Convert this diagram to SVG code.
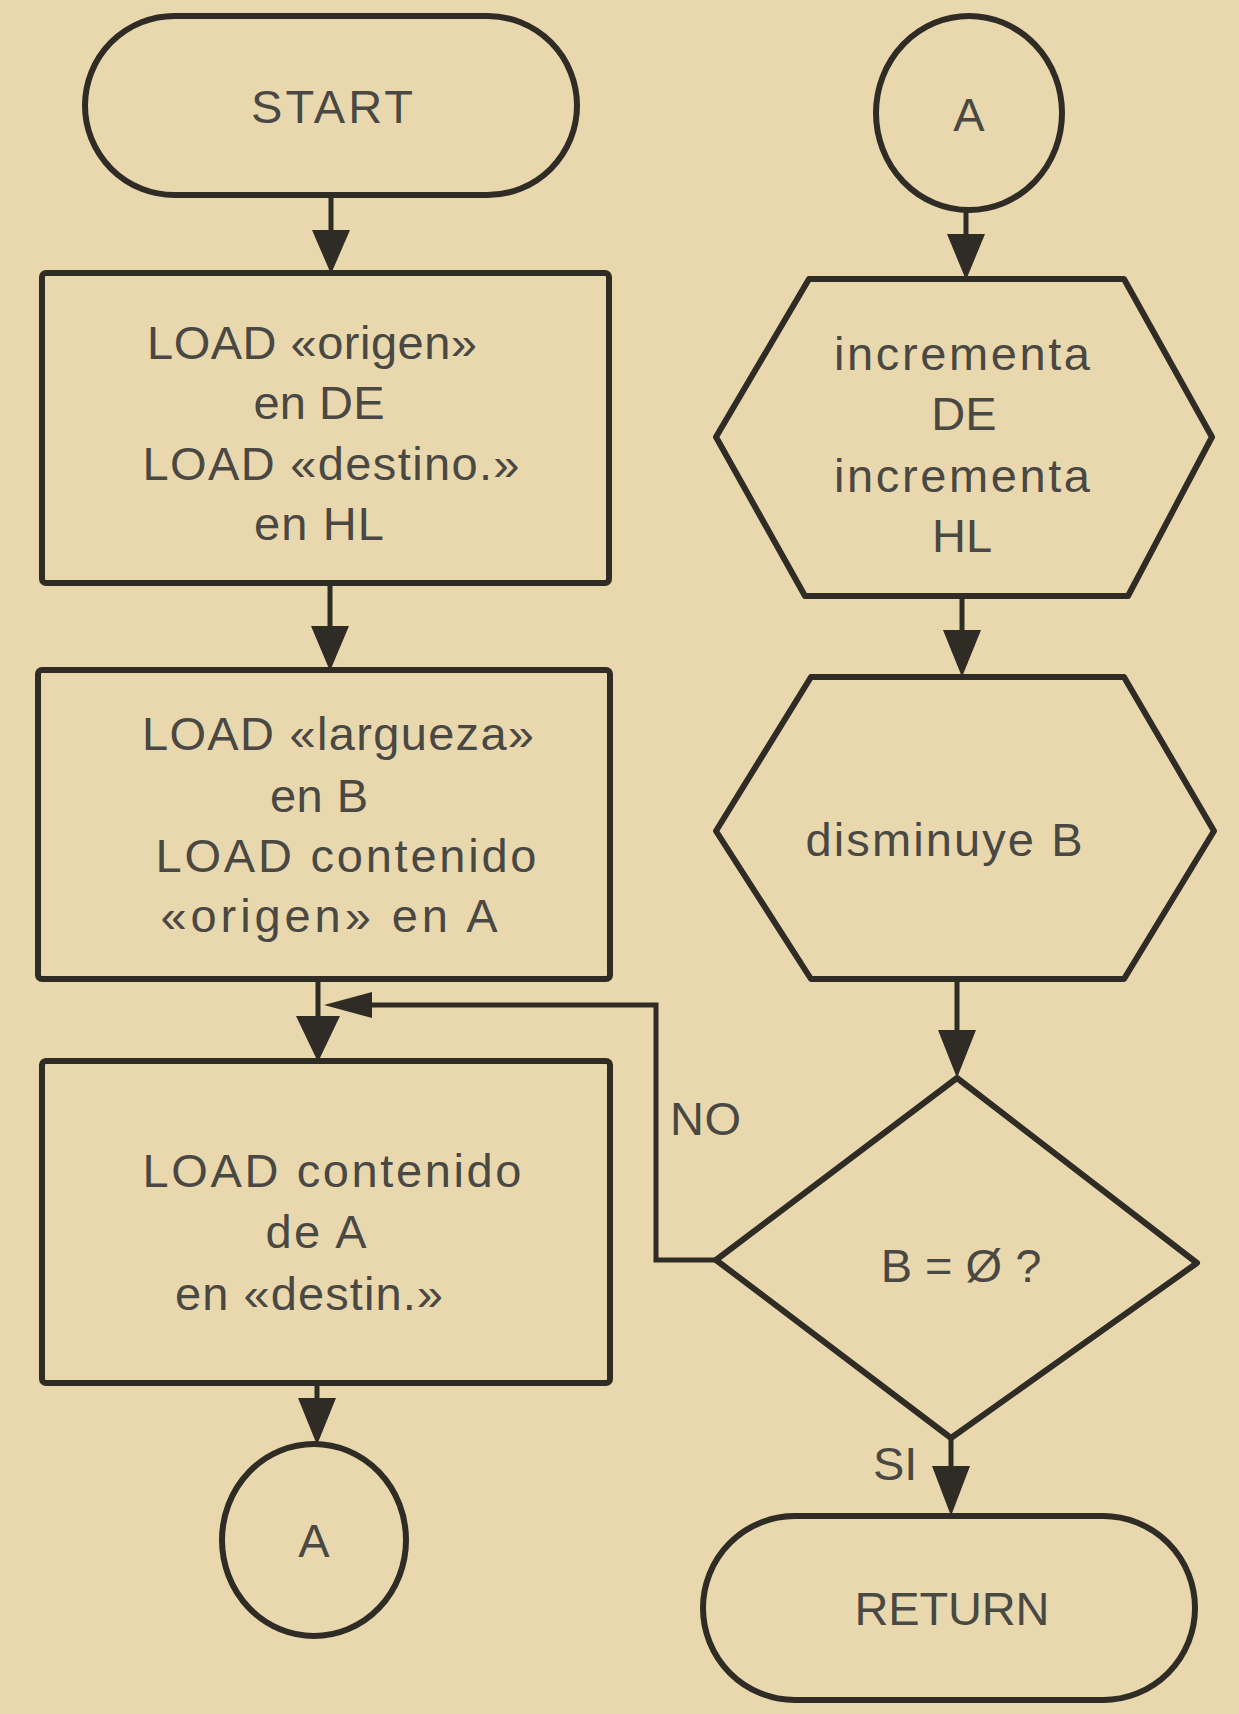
<svg xmlns="http://www.w3.org/2000/svg" width="1239" height="1714" viewBox="0 0 1239 1714">
<style>
.shape{fill:none;stroke:#2f2b25;stroke-width:6;stroke-linejoin:round}
.line{fill:none;stroke:#2f2b25;stroke-width:5}
.head{fill:#2f2b25}
text{font-family:"Liberation Sans",Arial,sans-serif;font-size:47px;fill:#4a4842;text-anchor:middle}
.lbl{text-anchor:start}
</style>
<rect width="1239" height="1714" fill="#e9d8ae"/>
<g id="connectors">
<line class="line" x1="331" y1="195" x2="331" y2="240"/>
<polygon class="head" points="312,230 350,230 331,274"/>
<line class="line" x1="330" y1="583" x2="330" y2="630"/>
<polygon class="head" points="311,626 349,626 330,671"/>
<line class="line" x1="318" y1="979" x2="318" y2="1020"/>
<polygon class="head" points="296,1016 340,1016 318,1062"/>
<polyline class="line" points="716,1260 656,1260 656,1005 360,1005"/>
<polygon class="head" points="372,992 372,1018 324,1005"/>
<line class="line" x1="317" y1="1383" x2="317" y2="1400"/>
<polygon class="head" points="298,1398 336,1398 317,1445"/>
<line class="line" x1="966" y1="210" x2="966" y2="236"/>
<polygon class="head" points="947,234 985,234 966,280"/>
<line class="line" x1="962" y1="596" x2="962" y2="632"/>
<polygon class="head" points="943,630 981,630 962,677"/>
<line class="line" x1="957" y1="979" x2="957" y2="1030"/>
<polygon class="head" points="938,1030 976,1030 957,1078"/>
<line class="line" x1="951" y1="1438" x2="951" y2="1468"/>
<polygon class="head" points="932,1466 970,1466 951,1516"/>
<text class="lbl" x="670" y="1135" textLength="71" lengthAdjust="spacing">NO</text>
<text class="lbl" x="873" y="1480">SI</text>
</g>
<g id="start">
<rect class="shape" x="85" y="16" width="492" height="179" rx="89.5"/>
<text x="332" y="123" textLength="162" lengthAdjust="spacing">START</text>
</g>
<g id="box1">
<rect class="shape" x="42" y="273" width="567" height="310" rx="4"/>
<text x="312" y="359" textLength="330" lengthAdjust="spacing">LOAD «origen»</text>
<text x="319" y="419" textLength="131" lengthAdjust="spacing">en DE</text>
<text x="331" y="480" textLength="377" lengthAdjust="spacing">LOAD «destino.»</text>
<text x="319" y="540" textLength="130" lengthAdjust="spacing">en HL</text>
</g>
<g id="box2">
<rect class="shape" x="38" y="670" width="572" height="309" rx="4"/>
<text x="338" y="750" textLength="392" lengthAdjust="spacing">LOAD «largueza»</text>
<text x="319" y="812" textLength="98" lengthAdjust="spacing">en B</text>
<text x="346" y="872" textLength="381" lengthAdjust="spacing">LOAD contenido</text>
<text x="329" y="932" textLength="337" lengthAdjust="spacing">«origen» en A</text>
</g>
<g id="box3">
<rect class="shape" x="42" y="1061" width="568" height="322" rx="4"/>
<text x="332" y="1187" textLength="379" lengthAdjust="spacing">LOAD contenido</text>
<text x="316" y="1248" textLength="101" lengthAdjust="spacing">de A</text>
<text x="309" y="1310" textLength="268" lengthAdjust="spacing">en «destin.»</text>
</g>
<g id="conn-a-out">
<ellipse class="shape" cx="314" cy="1540" rx="92" ry="96"/>
<text x="314" y="1557">A</text>
</g>
<g id="conn-a-in">
<ellipse class="shape" cx="969" cy="113" rx="93" ry="97"/>
<text x="969" y="131">A</text>
</g>
<g id="hex1">
<polygon class="shape" points="809,279 1124,279 1212,437 1128,596 805,596 716,437"/>
<text x="962" y="370" textLength="256" lengthAdjust="spacing">incrementa</text>
<text x="964" y="430">DE</text>
<text x="962" y="492" textLength="256" lengthAdjust="spacing">incrementa</text>
<text x="962" y="552">HL</text>
</g>
<g id="hex2">
<polygon class="shape" points="811,677 1124,677 1214,831 1124,979 811,979 716,831"/>
<text x="944" y="856" textLength="277" lengthAdjust="spacing">disminuye B</text>
</g>
<g id="decision">
<polygon class="shape" points="957,1078 1197,1263 951,1438 716,1260"/>
<text x="961" y="1282">B = Ø ?</text>
</g>
<g id="return">
<rect class="shape" x="703" y="1516" width="492" height="184" rx="92"/>
<text x="952" y="1625" textLength="195" lengthAdjust="spacing">RETURN</text>
</g>
</svg>
